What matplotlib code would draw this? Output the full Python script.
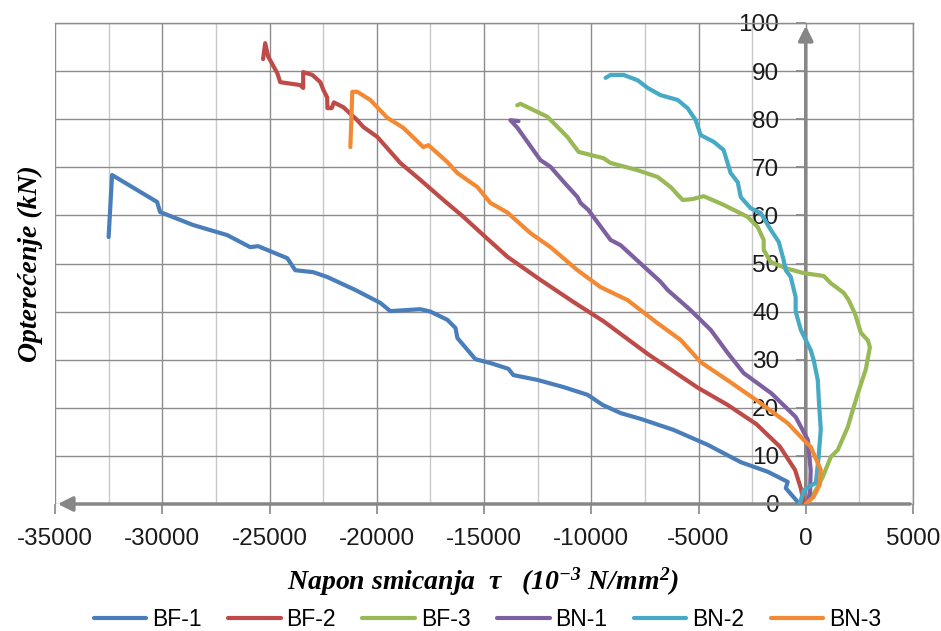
import numpy as np
import matplotlib
matplotlib.use('Agg')
import matplotlib.pyplot as plt
from matplotlib.ticker import MultipleLocator

# napon smicanja (x) i opterecenje (y), ocitano sa slike
bf1_x = [-200, -370, -930, -840, -1770, -3030, -4570, -6160, -7700, -8630, -9470, -10170,
         -11290, -12510, -13630, -13860, -14700, -15400, -16240, -16330, -16710, -17500,
         -17970, -19370, -19830, -21000, -22310, -22960, -23800, -24170, -25530, -25900,
         -26970, -28560, -30100, -30240, -31030, -32340, -32500]
bf1_y = [0, 0.4, 3.3, 4.6, 6.7, 8.7, 12.3, 15.4, 17.7, 18.9, 20.6, 22.7,
         24.3, 25.8, 26.8, 28.1, 29.3, 30.1, 34.5, 36.6, 38.3, 40.0,
         40.5, 40.1, 41.8, 44.5, 47.2, 48.2, 48.6, 51.1, 53.6, 53.4,
         55.9, 58.0, 60.7, 62.8, 64.9, 68.4, 55.5]

bf2_x = [-100, -230, -500, -1200, -2300, -3640, -5040, -7370, -9430, -10830, -12370,
         -13910, -15030, -15960, -16890, -17970, -18900, -19970, -20630, -20910, -21560,
         -22000, -22100, -22300, -22310, -22490, -22630, -23000, -23430, -23430, -23570,
         -24500, -24640, -25060, -25200, -25300]
bf2_y = [0.5, 3.3, 7.1, 11.9, 16.6, 20.6, 24.2, 31.2, 38.0, 42.0, 46.6,
         51.4, 55.9, 59.7, 63.2, 67.4, 70.9, 76.3, 78.4, 79.8, 82.5,
         83.5, 82.3, 82.3, 84.5, 86.1, 87.7, 89.2, 89.8, 86.5, 87.1,
         87.7, 89.6, 93.0, 95.8, 92.5]

bf3_x = [300, 600, 790, 1170, 1490, 1960, 2190, 2430, 2800, 2990, 2900, 2570, 2300, 2000,
         1770, 1170, 840, -90, -840, -1630, -1960, -1960, -2240, -2710, -3830, -4760,
         -5270, -5740, -6300, -6910, -7840, -9100, -9430, -10590, -11110, -12040, -13300,
         -13450]
bf3_y = [1.5, 4.0, 5.6, 9.8, 11.2, 16.0, 19.5, 23.0, 28.0, 32.6, 34.0, 35.6, 39.5, 42.4,
         43.9, 45.9, 47.4, 48.0, 48.9, 50.3, 52.8, 54.9, 57.6, 59.7, 62.2, 64.0,
         63.4, 63.2, 65.9, 68.0, 69.4, 70.9, 71.9, 73.2, 76.3, 80.5, 83.2,
         82.9]

bn1_x = [100, 200, 230, 100, -470, -1600, -2890, -3640, -4430, -5370, -6440, -6770,
         -8630, -9100, -10130, -10500, -10640, -11290, -11900, -12370, -13440, -13770,
         -13390]
bn1_y = [0.5, 2.3, 7.0, 13.3, 18.1, 23.0, 27.2, 31.4, 36.2, 40.3, 44.5, 46.2,
         53.8, 54.9, 61.1, 62.6, 63.8, 67.0, 70.1, 71.5, 78.2, 79.8,
         79.6]

bn2_x = [-300, -230, -90, 470, 600, 700, 610, 560, 370, 230, -230, -470, -470, -700,
         -930, -1030, -1260, -1630, -2100, -2570, -3030, -3170, -3500, -3830, -4290,
         -4900, -5130, -5510, -5970, -6770, -7370, -7840, -8490, -9100, -9330]
bn2_y = [0, 0.8, 2.9, 4.4, 9.8, 15.5, 21.6, 25.8, 29.9, 32.0, 36.2, 40.0, 43.0, 47.2,
         48.6, 50.7, 54.5, 57.0, 60.5, 61.5, 63.8, 66.9, 68.8, 73.6, 75.3,
         76.7, 79.8, 82.3, 84.0, 85.0, 86.5, 88.1, 89.2, 89.2, 88.6]

bn3_x = [0, 370, 650, 700, 230, -90, -840, -2240, -3570, -4900, -5830, -6910, -8310,
         -9570, -10640, -11900, -12830, -13910, -14700, -15310, -16240, -16710, -17590,
         -17830, -18760, -19510, -20300, -20910, -21140, -21230]
bn3_y = [0, 1.5, 4.0, 7.1, 11.9, 13.3, 16.8, 21.4, 25.5, 29.5, 34.1, 37.6, 42.4,
         45.1, 48.6, 53.4, 56.3, 60.6, 62.6, 65.9, 68.8, 71.1, 74.6,
         74.2, 78.2, 80.3, 84.0, 85.7, 85.7, 74.2]

labels = ['BF-1', 'BF-2', 'BF-3', 'BN-1', 'BN-2', 'BN-3']
colors = ['#4A7EBB', '#BE4B48', '#98B954', '#7D60A0', '#46AAC5', '#F38A33']

plt.rcParams['font.family'] = ['Liberation Sans', 'DejaVu Sans']
plt.rcParams['mathtext.fontset'] = 'custom'
plt.rcParams['mathtext.rm'] = 'Liberation Serif:bold:italic'
plt.rcParams['mathtext.it'] = 'Liberation Serif:bold:italic'

fig = plt.figure(figsize=(9.41, 6.31), dpi=100)
ax = fig.add_axes([55 / 941, 1 - 504 / 631, (913 - 55) / 941, (504 - 23) / 631])

series = [(bf1_x, bf1_y), (bf2_x, bf2_y), (bf3_x, bf3_y),
          (bn1_x, bn1_y), (bn2_x, bn2_y), (bn3_x, bn3_y)]
for (xs, ys), lab, col in zip(series, labels, colors):
    ax.plot(xs, ys, color=col, lw=3.0, label=lab, solid_joinstyle='round',
            solid_capstyle='round', zorder=3)

ax.set_xlim(-35000, 5000)
ax.set_ylim(0, 100)
ax.xaxis.set_major_locator(MultipleLocator(5000))
ax.xaxis.set_minor_locator(MultipleLocator(2500))
ax.yaxis.set_major_locator(MultipleLocator(10))

ax.set_axisbelow(True)
ax.grid(which='major', color='#8c8c8c', lw=1.0)
ax.grid(which='minor', axis='x', color='#c8c8c8', lw=1.0)

ax.spines['left'].set_position(('data', 0))
ax.spines['left'].set_visible(False)
ax.spines['bottom'].set_visible(False)
for s in ['top', 'right']:
    ax.spines[s].set_color('#8c8c8c')
    ax.spines[s].set_linewidth(1.0)

# osovine sa strelicama
ax.annotate('', xy=(0, 100), xytext=(0, 0),
            arrowprops=dict(arrowstyle='-|>', color='#868686', lw=2.5, mutation_scale=22),
            zorder=1)
ax.annotate('', xy=(-35000, 0), xytext=(5000, 0),
            arrowprops=dict(arrowstyle='-|>', color='#868686', lw=2.5, mutation_scale=22),
            zorder=1, annotation_clip=False)

ax.tick_params(axis='x', which='major', direction='out', length=7, width=1.2,
               color='#868686', pad=10, labelsize=17.5, labelcolor='#1a1a1a')
ax.tick_params(axis='x', which='minor', length=0)
ax.tick_params(axis='y', direction='out', length=7, width=1.2, color='#868686',
               pad=12, labelsize=17.5, labelcolor='#1a1a1a')
ax.set_xticks(np.arange(-35000, 5001, 5000))
ax.set_xticklabels([str(v) for v in range(-35000, 5001, 5000)])
ax.set_yticks(np.arange(0, 101, 10))

fig.text(0.032, 0.583, 'Opterećenje (kN)', rotation=90, ha='center', va='center',
         fontsize=20, family='Liberation Serif', weight='bold', style='italic')
fig.text(0.513, 0.078,
         r'Napon smicanja  τ   (10$^{\mathregular{-3}}$ N/mm$^{\mathregular{2}}$)',
         ha='center', va='center', fontsize=20, family='Liberation Serif',
         weight='bold', style='italic')

fig.legend(loc='center', bbox_to_anchor=(0.518, 0.018), ncol=6, frameon=False,
           fontsize=16.5, handlelength=2.3, handletextpad=0.25, columnspacing=1.15)

fig.savefig('out.png', dpi=100)
